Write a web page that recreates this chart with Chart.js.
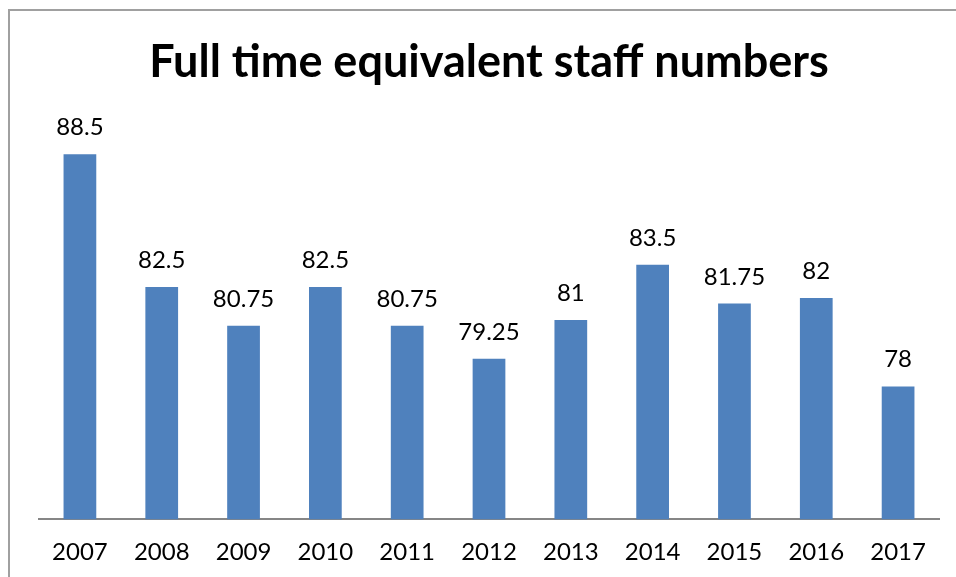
<!DOCTYPE html>
<html lang="en">
<head>
  <meta charset="UTF-8">
  <title>Full time equivalent staff numbers</title>
  <script src="https://cdn.jsdelivr.net/npm/chart.js"></script>
  <style>
    body { margin: 0; background: #fff; overflow: hidden; }
    .frame {
      position: absolute; left: 8px; top: 9px; width: 1000px; height: 600px;
      border-left: 2px solid #a0a0a0; border-top: 2px solid #a0a0a0;
    }
    /* taller than the window: Chart.js leaves twice the tick padding under the labels */
    .wrap { position: absolute; left: 0; top: 0; width: 956px; height: 600px; }
  </style>
</head>
<body>
  <div class="frame"></div>
  <div class="wrap"><canvas id="staffChart"></canvas></div>

  <script>
    const years = ['2007', '2008', '2009', '2010', '2011', '2012', '2013', '2014', '2015', '2016', '2017'];
    const fteStaff = [88.5, 82.5, 80.75, 82.5, 80.75, 79.25, 81, 83.5, 81.75, 82, 78];
    const fontFamily = 'Lato, "Open Sans", sans-serif';

    // write the value above each bar
    const valueLabels = {
      id: 'valueLabels',
      afterDatasetsDraw(chart) {
        const ctx = chart.ctx;
        ctx.save();
        ctx.font = '24px ' + fontFamily;
        ctx.fillStyle = '#000';
        ctx.textAlign = 'center';
        ctx.textBaseline = 'alphabetic';
        chart.getDatasetMeta(0).data.forEach((bar, i) => {
          ctx.fillText(String(fteStaff[i]), bar.x, bar.y - 19);
        });
        ctx.restore();
      }
    };

    new Chart(document.getElementById('staffChart'), {
      type: 'bar',
      data: {
        labels: years,
        datasets: [{
          data: fteStaff,
          backgroundColor: '#4f81bd',
          barPercentage: 0.4,
          categoryPercentage: 1
        }]
      },
      options: {
        responsive: true,
        maintainAspectRatio: false,
        animation: false,
        layout: { padding: { left: 39, right: 17, top: 10, bottom: 14 } },
        plugins: {
          legend: { display: false },
          tooltip: { enabled: false },
          title: {
            display: true,
            text: 'Full time equivalent staff numbers',
            color: '#000',
            font: { family: fontFamily, size: 45, weight: 'bold', lineHeight: 1.2 },
            padding: { top: 25, bottom: 32 }
          }
        },
        scales: {
          x: {
            grid: { display: false, drawTicks: false },
            border: { color: '#868686', width: 2 },
            ticks: { color: '#000', padding: 19, font: { family: fontFamily, size: 24 } }
          },
          y: {
            display: false,
            min: 72,
            max: 90
          }
        }
      },
      plugins: [valueLabels]
    });
  </script>
</body>
</html>
